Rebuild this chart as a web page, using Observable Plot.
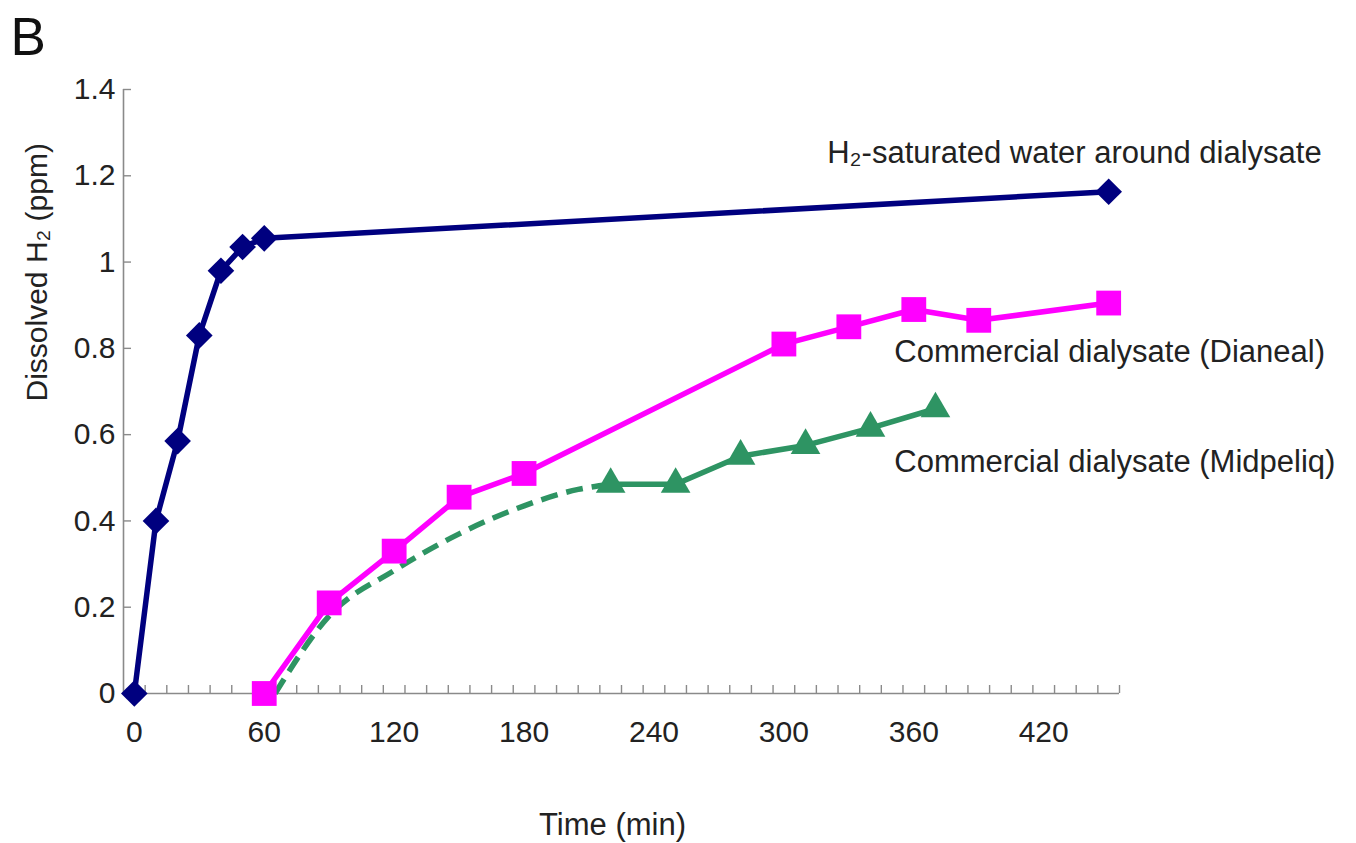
<!DOCTYPE html>
<html>
<head>
<meta charset="utf-8">
<script src="https://cdn.jsdelivr.net/npm/d3@7"></script>
<script src="https://cdn.jsdelivr.net/npm/@observablehq/plot@0.6"></script>
<style>
  html, body { margin: 0; padding: 0; background: #fff; }
  #chart svg { display: block; }
</style>
</head>
<body>
<div id="chart"></div>
<script>
// ---- data ----
const h2Time  = [0, 10, 20, 30, 40, 50, 60, 450];
const h2Value = [0, 0.40, 0.585, 0.83, 0.98, 1.035, 1.055, 1.163];

const dianealTime  = [60, 90, 120, 150, 180, 300, 330, 360, 390, 450];
const dianealValue = [0, 0.21, 0.33, 0.455, 0.51, 0.81, 0.85, 0.89, 0.865, 0.905];

const midpeliqTime  = [220, 250, 280, 310, 340, 370];
const midpeliqValue = [0.485, 0.485, 0.55, 0.575, 0.615, 0.66];

// dashed fitted curve of Midpeliq
const midpeliqFitTime  = [65, 90, 120, 150, 180, 205, 220];
const midpeliqFitValue = [0, 0.18, 0.285, 0.37, 0.435, 0.473, 0.485];

// series labels (anchored in data units)
const labelText  = ["H\u2082-saturated water around dialysate", "Commercial dialysate (Dianeal)", "Commercial dialysate (Midpeliq)"];
const labelTime  = [320, 351, 351];
const labelValue = [1.252, 0.791, 0.536];

// ticks
const xTickLabels = [0, 60, 120, 180, 240, 300, 360, 420];
const xMinorTicks = d3.range(5, 456, 10);
const yTicks = [0, 0.2, 0.4, 0.6, 0.8, 1, 1.2, 1.4];

const zip = (xs, ys) => xs.map((x, i) => ({x, y: ys[i]}));
const h2 = zip(h2Time, h2Value);
const dianeal = zip(dianealTime, dianealValue);
const midpeliq = zip(midpeliqTime, midpeliqValue);
const midpeliqFit = zip(midpeliqFitTime, midpeliqFitValue);
const labels = labelText.map((t, i) => ({t, x: labelTime[i], y: labelValue[i]}));

const NAVY = "#00007f", MAGENTA = "#ff00ff", GREEN = "#2e9463";
const AXIS = "#8a8a8a", TXT = "#222";
const FONT = "Liberation Sans, Arial, sans-serif";

const chart = Plot.plot({
  width: 1356,
  height: 843,
  marginLeft: 123,
  marginRight: 237,
  marginTop: 89,
  marginBottom: 150,
  style: {fontFamily: FONT, background: "#fff"},
  x: {domain: [-5, 455]},
  y: {domain: [0, 1.4]},
  marks: [
    // axis lines
    Plot.ruleY([0], {stroke: AXIS, strokeWidth: 1.6}),
    Plot.ruleX([-5], {stroke: AXIS, strokeWidth: 1.6}),
    // inward ticks
    Plot.tickX(xMinorTicks, {x: d => d, insetTop: 596, stroke: AXIS, strokeWidth: 1.4}),
    Plot.tickY(yTicks, {y: d => d, insetRight: 988, stroke: AXIS, strokeWidth: 1.4}),
    // tick labels
    Plot.axisX(xTickLabels, {anchor: "bottom", tickSize: 0, tickPadding: 27, label: null,
      fontSize: 30, fill: TXT, tickFormat: d => String(d)}),
    Plot.axisY(yTicks, {anchor: "left", tickSize: 0, tickPadding: 8, label: null,
      fontSize: 30, fill: TXT, tickFormat: d => String(d)}),
    // axis titles
    Plot.text(["Time (min)"], {frameAnchor: "bottom", dx: -9, dy: 132, fontSize: 31, fill: TXT, lineAnchor: "middle"}),
    Plot.text(["Dissolved H\u2082 (ppm)"], {frameAnchor: "left", rotate: -90, dx: -86, dy: 10, fontSize: 30, fill: TXT, lineAnchor: "middle"}),
    // panel letter
    Plot.text(["B"], {frameAnchor: "top-left", textAnchor: "start", lineAnchor: "top", dx: -113, dy: -72, fontSize: 53, fill: "#111"}),

    // Midpeliq dashed fit
    Plot.line(midpeliqFit, {x: "x", y: "y", curve: "monotone-x", stroke: GREEN, strokeWidth: 5.5, strokeDasharray: "17,9", strokeLinecap: "butt"}),
    // lines
    Plot.line(h2, {x: "x", y: "y", stroke: NAVY, strokeWidth: 5.5}),
    Plot.line(dianeal, {x: "x", y: "y", stroke: MAGENTA, strokeWidth: 5.5}),
    Plot.line(midpeliq, {x: "x", y: "y", stroke: GREEN, strokeWidth: 5.5}),
    // markers
    Plot.dot(h2, {x: "x", y: "y", symbol: "diamond2", r: 12, fill: NAVY}),
    Plot.dot(dianeal, {x: "x", y: "y", symbol: "square", r: 14, fill: MAGENTA}),
    Plot.dot(midpeliq, {x: "x", y: "y", symbol: "triangle", r: 11, fill: GREEN}),

    // series labels
    Plot.text(labels, {x: "x", y: "y", text: "t", textAnchor: "start", lineAnchor: "middle", fontSize: 31, fill: TXT})
  ]
});
document.getElementById("chart").appendChild(chart);
</script>
</body>
</html>
